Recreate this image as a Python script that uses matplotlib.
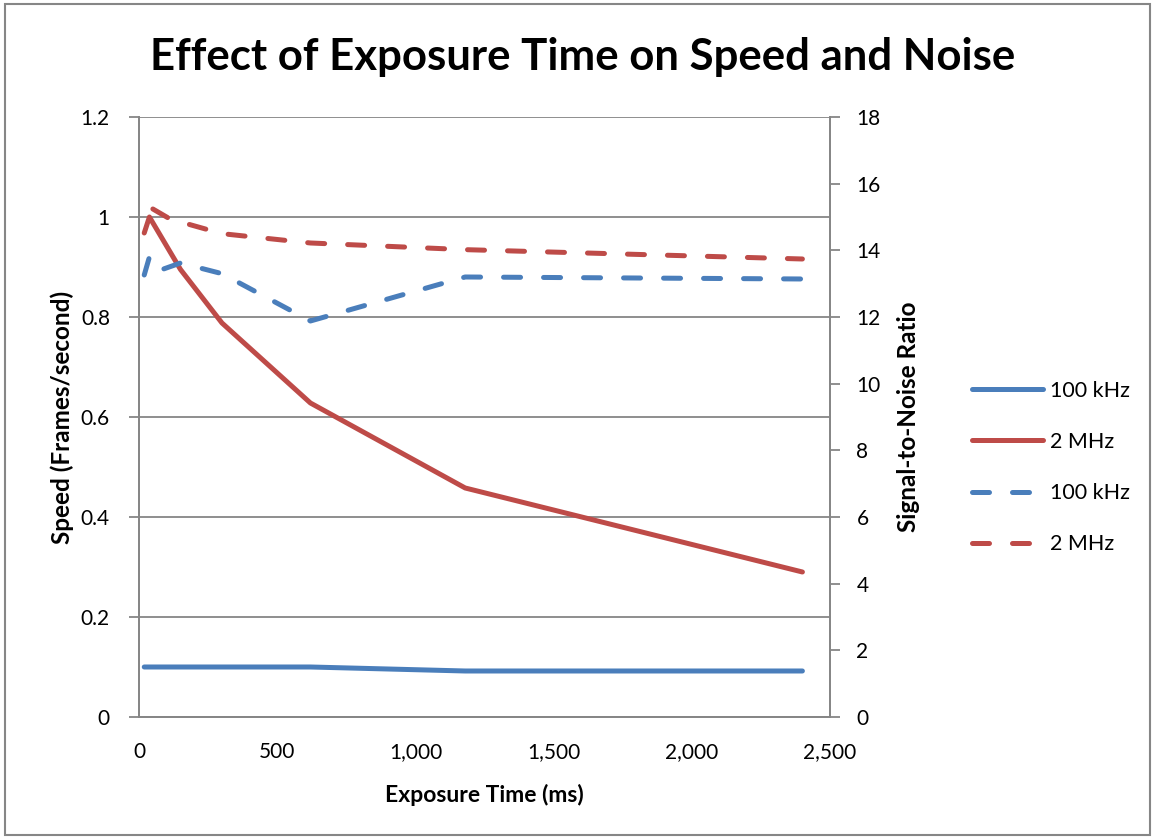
import matplotlib
matplotlib.use("Agg")
import matplotlib.pyplot as plt
from matplotlib.ticker import FuncFormatter, MultipleLocator
from matplotlib.patches import Rectangle

plt.rcParams['font.family'] = ['Lato', 'DejaVu Sans']

# Speed (frames/second), left axis
t_speed = [18.75, 37.5, 75, 150, 300, 620, 1180, 2400]
speed_100k = [0.1, 0.1, 0.1, 0.1, 0.1, 0.1, 0.092, 0.092]
speed_2M = [0.968, 1.0, 0.965, 0.895, 0.788, 0.628, 0.458, 0.29]

# Signal-to-noise ratio, right axis
t_snr_100k = [18.75, 37.5, 75, 150, 300, 620, 1180, 2400]
snr_100k = [13.26, 13.8, 13.4, 13.62, 13.3, 11.88, 13.2, 13.14]
t_snr_2M = [50, 110, 150, 300, 620, 1180, 2400]
snr_2M = [15.24, 14.95, 14.85, 14.5, 14.22, 14.02, 13.74]

blue = "#4A7EBB"
red = "#BE4B48"
grey = "#868686"

fig = plt.figure(figsize=(11.53, 8.38), dpi=100)
ax = fig.add_axes([0.1206, 0.1444, 0.7199 - 0.1206, 0.8604 - 0.1444])
ax2 = ax.twinx()

lw = 3.6
dash = (0, (3.4, 4.6))

l1, = ax.plot(t_speed, speed_100k, color=blue, lw=lw, solid_capstyle="round",
              solid_joinstyle="round", label="100 kHz")
l2, = ax.plot(t_speed, speed_2M, color=red, lw=lw, solid_capstyle="round",
              solid_joinstyle="round", label="2 MHz")
l3, = ax2.plot(t_snr_100k, snr_100k, color=blue, lw=lw, ls=dash,
               dash_capstyle="round", label="100 kHz")
l4, = ax2.plot(t_snr_2M, snr_2M, color=red, lw=lw, ls=dash,
               dash_capstyle="round", label="2 MHz")

ax.set_xlim(0, 2500)
ax.set_ylim(0, 1.2)
ax2.set_ylim(0, 18)
ax.xaxis.set_major_locator(MultipleLocator(500))
ax.yaxis.set_major_locator(MultipleLocator(0.2))
ax2.yaxis.set_major_locator(MultipleLocator(2))
ax.xaxis.set_major_formatter(FuncFormatter(lambda v, p: f"{int(v):,}"))
ax.yaxis.set_major_formatter(FuncFormatter(lambda v, p: f"{v:g}"))

ax.grid(axis="y", color=grey, lw=1.3)
ax.set_axisbelow(True)

for a in (ax, ax2):
    for s in a.spines.values():
        s.set_color(grey)
        s.set_linewidth(1.3)
    a.spines["top"].set_visible(False)

ax.tick_params(axis="y", direction="out", length=7, width=1.3, color=grey,
               labelsize=15, pad=14)
ax.tick_params(axis="x", length=0, labelsize=15, pad=18)
ax2.tick_params(axis="y", direction="out", length=7, width=1.3, color=grey,
                labelsize=15, pad=12)

ax.set_xlabel("Exposure Time (ms)", fontsize=16.5, fontweight="bold", labelpad=16)
ax.set_ylabel("Speed (Frames/second)", fontsize=17.5, fontweight="bold", labelpad=5)
ax2.set_ylabel("Signal-to-Noise Ratio", fontsize=17.5, fontweight="bold", labelpad=12)

fig.text(0.505, 0.932, "Effect of Exposure Time on Speed and Noise",
         ha="center", va="center", fontsize=31.5, fontweight="bold")

fig.legend(handles=[l1, l2, l3, l4], loc="center left",
           bbox_to_anchor=(0.826, 0.442), frameon=False, fontsize=15.5,
           handlelength=3.3, labelspacing=1.45, handletextpad=0.35)

fig.add_artist(Rectangle((0.004, 0.004), 0.993, 0.991, transform=fig.transFigure,
                         fill=False, edgecolor=grey, lw=1.5))

fig.savefig("out.png", dpi=100)
